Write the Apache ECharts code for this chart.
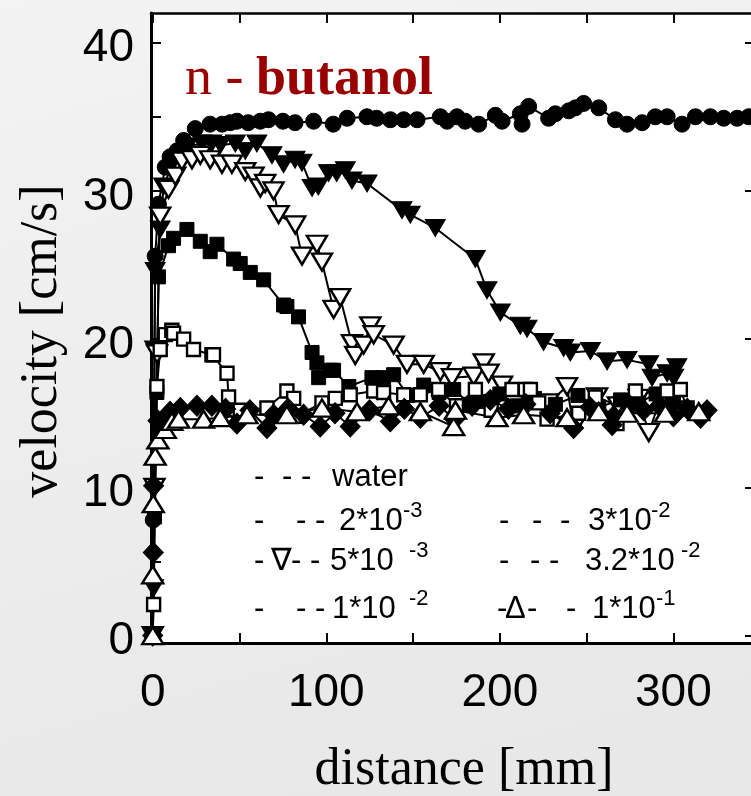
<!DOCTYPE html>
<html>
<head>
<meta charset="utf-8">
<script src="https://cdn.jsdelivr.net/npm/echarts@6.0.0/dist/echarts.min.js"></script>
<style>
  html, body { margin: 0; padding: 0; }
  body { width: 751px; height: 796px; background: linear-gradient(165deg, #f3f3f3 0%, #ececec 55%, #e7e7e7 100%); }
  #chart { width: 751px; height: 796px; }
</style>
</head>
<body>
<div id="chart"></div>
<script>
// tick values
const xTickVals = [0, 50, 100, 150, 200, 250, 300];
const xLabelVals = [0, 100, 200, 300];
const yTickVals = [0, 5, 10, 15, 20, 25, 30, 35, 40];
const yTickValsRight = [0, 10, 20, 30, 40];
const yLabelVals = [0, 10, 20, 30, 40];

// legend texts (concentrations)
const legendLabels = ['water', '2*10', '5*10', '1*10', '3*10', '3.2*10', '1*10'];
const legendExps = ['', '-3', '-3', '-2', '-2', '-2', '-1'];

// distance [mm], velocity [cm/s]
const water = [
  [0, 0], [0.3, 7.8], [1.4, 25.6], [3.3, 29.1], [7.2, 31.6], [10, 32.3], [14, 32.7], [17.8, 33.4],
  [24.5, 34.2], [33, 34.5], [40, 34.5], [44.7, 34.6], [48.5, 34.7], [55, 34.6], [62, 34.7], [66.7, 34.8],
  [75, 34.7], [82, 34.6], [92.7, 34.7], [104, 34.5], [112, 34.9], [123.4, 35.0], [129, 34.9], [136.9, 34.8],
  [144.6, 34.8], [152.3, 34.8], [165.7, 35.0], [169.6, 34.7], [175.3, 35.0], [180, 34.7], [187.8, 34.5],
  [197.4, 35.1], [201.3, 34.7], [211.8, 35.2], [212.8, 34.5], [216.6, 35.7], [228.1, 34.9], [232, 35.2],
  [239.7, 35.4], [243.5, 35.6], [248.3, 35.9], [257, 35.6], [266.6, 34.8], [273.3, 34.5], [282, 34.6],
  [289.6, 35.0], [296.4, 35.0], [305, 34.5], [312.7, 35.0], [321.3, 35.0], [329, 34.9], [336.7, 34.9], [343.4, 35.0]
];
const c2e3 = [
  [0, 0], [0.5, 3.2], [1, 19.3], [1.4, 24.6], [4.3, 27.4], [6.2, 30.3], [12, 32], [20, 33], [28.4, 33.2],
  [34, 33.2], [39, 33.1], [47.6, 33.2], [53.3, 32.7], [60, 33.2], [68.7, 32.4], [75.4, 31.8], [82, 32.1],
  [86, 31.9], [91.8, 30.2], [95.4, 30.3], [101.3, 31.2], [106, 31.2], [111, 31.4], [114.8, 30.7],
  [123.5, 30.5], [143.6, 28.7], [148.4, 28.4], [162.8, 27.5], [185.9, 25.4], [192.6, 23.3], [200.3, 21.8],
  [211.8, 20.9], [215.7, 20.7], [225.2, 19.8], [236.8, 19.4], [240.6, 19.1], [252.2, 19.2], [261.8, 18.5],
  [273.3, 18.6], [285.8, 18.3], [287.7, 17.4], [296.4, 17.7], [300.2, 17.4], [302, 18.1]
];
const c5e3 = [
  [0, 0], [1, 10], [2.5, 19], [4.3, 28.3], [9.1, 30.1], [13, 31], [16.8, 32], [22.6, 32.1], [27.4, 32.4],
  [33.1, 32.1], [39.9, 31.8], [45.6, 31.8], [53.3, 31.3], [58.1, 31], [62, 30.2], [64.8, 30.5], [69.6, 30],
  [72.5, 28.4], [82.1, 27.7], [86, 25.6], [94.6, 26.4], [97.5, 25.2], [104.2, 22], [108, 22.8], [114.8, 19.7],
  [116.7, 18.9], [121.5, 19.6], [125.4, 20.9], [127.3, 20.3], [138.8, 19.6], [146.5, 18.3], [156.1, 18.3],
  [165.7, 17.8], [172.4, 17.4], [184.9, 17.5], [190.7, 18.4], [193.5, 17.7], [201.3, 16.9], [215, 16.2],
  [228, 15.7], [238.7, 16.8], [242.5, 14.0], [256, 16.1], [268, 15.5], [280, 16.0], [285.8, 13.7],
  [292, 15.8], [300, 16.0]
];
const c1e2 = [
  [0, 0], [1, 8], [2.4, 16.4], [3.3, 24.2], [9.1, 26.3], [12, 26.8], [19.7, 27.4], [27.4, 26.6], [33.1, 25.9],
  [37, 26.4], [46.6, 25.4], [50.4, 25.1], [56.2, 24.5], [63.9, 24], [75.4, 22.3], [77.3, 22.2], [84, 21.5],
  [91.8, 19.1], [94.6, 18.4], [95.6, 17.4], [102.3, 17.9], [104.2, 17.9], [113, 16.8], [126.3, 17.4],
  [133, 17.4], [138.8, 17.6], [147, 16.2], [156.1, 16.9], [165, 16.4], [173.4, 16.6], [183, 15.6],
  [189.7, 15.8], [200, 16.3], [210, 15.5], [220, 16.0], [232, 15.6], [245, 16.2], [257, 15.4], [269.5, 15.9],
  [280, 15.7], [290, 16.3], [300, 15.8]
];
const c3e2 = [
  [0, 0], [0.5, 2.1], [2.4, 16.8], [4.3, 19.3], [7.2, 20.3], [11, 20.6], [12, 20.4], [17.8, 20], [23.5, 19.3],
  [34.1, 18.95], [35, 18.95], [42.8, 17.7], [43.7, 16.1], [50.4, 15.2], [65.8, 15.35], [77.3, 16.5],
  [81.2, 16], [83.1, 14.8], [97.5, 15.7], [105.2, 16], [113.8, 16.25], [127.3, 16.5], [133, 16.4],
  [144.6, 16.25], [154.2, 16.25], [164.7, 16.6], [175, 15.5], [185.9, 16.6], [195, 15.2], [207, 16.6],
  [214.7, 16.6], [217.6, 16.6], [222.4, 15.7], [227.2, 14.6], [245.4, 15], [255, 16.1], [267.5, 14.3],
  [278.1, 16.5], [296.4, 16.5], [304, 16.6], [307.9, 15.35]
];
const c32e2 = [
  [0, 0], [0.3, 5.6], [0.5, 10.1], [3, 14.5], [10, 15.1], [15.9, 15.35], [25.5, 15.5], [34.1, 15.5],
  [42, 15.3], [48.5, 14.3], [56, 15.2], [65.8, 14], [69.6, 14.9], [78, 15.3], [86.9, 14.9], [96.5, 14.1],
  [105, 15], [113.8, 14.1], [125, 15.2], [136.9, 14.45], [145, 15.3], [154.2, 14.7], [165, 15.5],
  [174, 14.6], [184, 15.5], [194.5, 15.9], [205, 15.3], [215, 15.6], [229, 15], [242.5, 14], [252, 15.4],
  [264.7, 14.2], [265.6, 14.8], [275, 15.5], [282.9, 15.2], [292, 15.5], [300, 14.8], [308, 15.3],
  [315.6, 14.7], [319.4, 15.2]
];
const c1e1 = [
  [0, 0], [0, 4.1], [0.3, 8.9], [1.4, 12.1], [3, 13.2], [7.2, 13.9], [11, 14.45], [14.9, 14.6], [29.3, 14.6],
  [38.9, 14.7], [54.3, 14.9], [77.3, 14.9], [97.5, 15.35], [117.7, 15.1], [135.9, 15.5], [154.2, 15.1],
  [173.4, 14.1], [174.4, 15.2], [198.4, 14.7], [213.7, 14.9], [238.7, 14.7], [257, 15.1], [273.3, 15.0],
  [295.4, 15.0], [314.6, 15.1]
];

const sans = '"Liberation Sans", Arial, sans-serif';
const serif = '"Liberation Serif", "Times New Roman", serif';

function mkSeries(name, data, symbol, size, filled, rotate) {
  return {
    name: name,
    type: 'line',
    data: data,
    symbol: symbol,
    symbolSize: size,
    symbolRotate: rotate || 0,
    showAllSymbol: true,
    clip: false,
    lineStyle: { color: '#000', width: 2 },
    itemStyle: filled
      ? { color: '#000', borderColor: '#000', borderWidth: 1 }
      : { color: '#fff', borderColor: '#000', borderWidth: 2.4 },
    emphasis: { disabled: true }
  };
}

function txt(x, y, s, size) {
  return {
    type: 'text', x: x, y: y, silent: true,
    style: {
      text: s, font: size + 'px ' + sans, fill: '#000',
      textAlign: 'left', textVerticalAlign: 'middle', align: 'left', verticalAlign: 'middle'
    }
  };
}

// legend layout: dash pieces, label x, exponent x, row y
const legendLayout = [
  { dashes: [[254, '-'], [282, '- -']], lx: 332, ex: 0, y: 477 },
  { dashes: [[254, '-'], [296, '- -']], lx: 339, ex: 403, y: 521 },
  { dashes: [[254, '-'], [271, '\u2207'], [291, '- -']], lx: 330, ex: 409, y: 561 },
  { dashes: [[254, '-'], [296, '- -']], lx: 332, ex: 409, y: 609 },
  { dashes: [[499, '-'], [532, '-'], [560, '-']], lx: 588, ex: 651, y: 521 },
  { dashes: [[499, '-'], [530, '- -']], lx: 585, ex: 681, y: 561 },
  { dashes: [[497, '-'], [505, '\u0394'], [527, '-'], [566, '-']], lx: 592, ex: 656, y: 609 }
];

const graphics = [];
legendLayout.forEach(function (row, i) {
  row.dashes.forEach(function (d) { graphics.push(txt(d[0], row.y, d[1], 31)); });
  graphics.push(txt(row.lx, row.y, legendLabels[i], 31));
  if (legendExps[i]) graphics.push(txt(row.ex, row.y - 10, legendExps[i], 22));
});

// title
graphics.push({ type: 'text', x: 185, y: 80, silent: true,
  style: { text: 'n - ', font: '54px ' + serif, fill: '#990000', textVerticalAlign: 'middle', verticalAlign: 'middle' } });
graphics.push({ type: 'text', x: 256, y: 80, silent: true,
  style: { text: 'butanol', font: 'bold 54px ' + serif, fill: '#990000', textVerticalAlign: 'middle', verticalAlign: 'middle' } });
// axis names
graphics.push({ type: 'text', x: 464, y: 770, silent: true,
  style: { text: 'distance [mm]', font: '52px ' + serif, fill: '#000', textAlign: 'center', align: 'center', textVerticalAlign: 'middle', verticalAlign: 'middle' } });
graphics.push({ type: 'text', x: 42, y: 341, rotation: Math.PI / 2, silent: true,
  style: { text: 'velocity [cm/s]', font: '52px ' + serif, fill: '#000', textAlign: 'center', align: 'center', textVerticalAlign: 'middle', verticalAlign: 'middle' } });

const axisLineStyle = { color: '#000', width: 3 };
const tickStyle = { color: '#000', width: 2 };

const option = {
  animation: false,
  grid: { left: 151, top: 13, width: 613, height: 630, show: true, backgroundColor: '#fff', borderWidth: 0,
    outerBoundsMode: 'none', containLabel: false },
  xAxis: [
    {
      type: 'value', min: -1, max: 352.2, position: 'bottom',
      axisLine: { show: true, onZero: false, lineStyle: axisLineStyle },
      axisTick: { show: true, inside: true, length: 10, lineStyle: tickStyle, customValues: xTickVals },
      axisLabel: { customValues: xLabelVals, fontSize: 46, fontFamily: sans, color: '#000', margin: 27 },
      splitLine: { show: false }
    },
    {
      type: 'value', min: -1, max: 352.2, position: 'top',
      axisLine: { show: true, onZero: false, lineStyle: { color: '#000', width: 2.5 } },
      axisTick: { show: true, inside: true, length: 10, lineStyle: tickStyle, customValues: xTickVals },
      axisLabel: { show: false },
      splitLine: { show: false }
    }
  ],
  yAxis: [
    {
      type: 'value', min: -0.5, max: 42, position: 'left',
      axisLine: { show: true, onZero: false, lineStyle: axisLineStyle },
      axisTick: { show: true, inside: true, length: 10, lineStyle: tickStyle, customValues: yTickVals },
      axisLabel: { customValues: yLabelVals, fontSize: 46, fontFamily: sans, color: '#000', margin: 17,
        verticalAlign: 'top', lineHeight: 12 },
      splitLine: { show: false }
    },
    {
      type: 'value', min: -0.5, max: 42, position: 'right',
      axisLine: { show: true, onZero: false, lineStyle: axisLineStyle },
      axisTick: { show: true, inside: true, length: 19, lineStyle: tickStyle, customValues: yTickValsRight },
      axisLabel: { show: false },
      splitLine: { show: false }
    }
  ],
  series: [
    mkSeries('water', water, 'circle', 16, true),
    mkSeries('2*10-3', c2e3, 'triangle', [20, 17], true, 180),
    mkSeries('5*10-3', c5e3, 'triangle', [20, 17], false, 180),
    mkSeries('1*10-2', c1e2, 'rect', 14, true),
    mkSeries('3*10-2', c3e2, 'rect', 13, false),
    mkSeries('3.2*10-2', c32e2, 'diamond', [20, 21], true),
    mkSeries('1*10-1', c1e1, 'triangle', [21, 17], false)
  ],
  graphic: graphics
};

const chart = echarts.init(document.getElementById('chart'), null, { renderer: 'canvas' });
chart.setOption(option);
</script>
</body>
</html>
